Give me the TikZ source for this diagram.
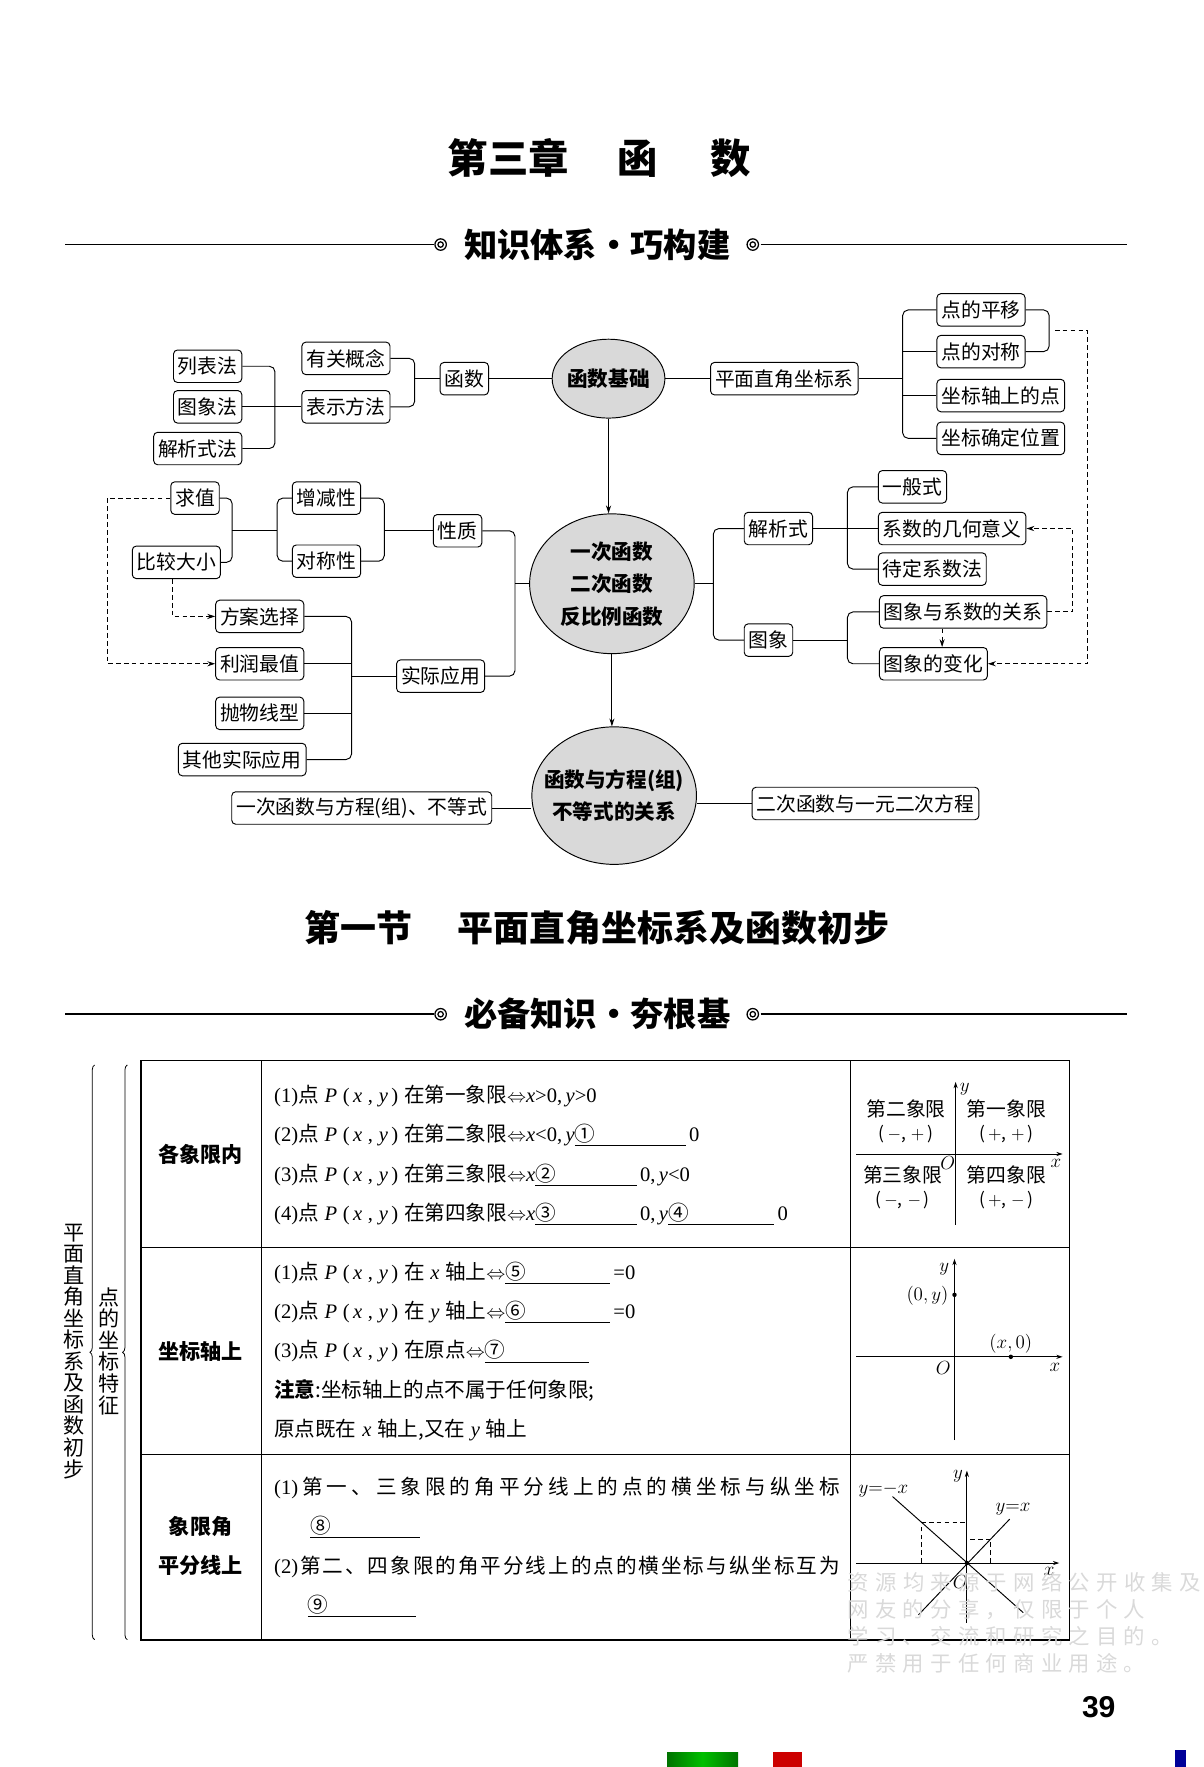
\documentclass[tikz,border=0pt]{standalone}
\usepackage{fontspec}
\setmainfont{Noto Sans CJK SC}
\newfontfamily\numfont{Liberation Sans}
\newfontfamily\latinfont{Liberation Serif}
\usetikzlibrary{shapes.geometric,arrows.meta,decorations.pathreplacing}

\newcommand{\fillblank}[2]{\underline{\makebox[#1][l]{#2}}}
\newcommand{\latn}[1]{{\latinfont #1}}
\newcommand{\Pxy}{\latn{\textit{P}\;(\,\textit{x}\;,\;\textit{y}\,)}}
\def\spreadaux#1#2{#1\ifx\relax#2\else\hfil\expandafter\spreadaux\expandafter#2\fi}
\newcommand{\spreadline}[2]{\makebox[#1][s]{\spreadaux#2\relax}}

\begin{document}
\begin{tikzpicture}[x=0.025cm, y=-0.025cm, >={Stealth[length=5pt,width=3.2pt]},
  kbox/.style={draw, rounded corners=2.5pt, line width=0.6pt, inner xsep=2.8pt, inner ysep=0pt, minimum height=0.72cm, font=\fontsize{12.5}{14}\selectfont},
  hub/.style={draw, ellipse, fill=gray!30, line width=0.6pt, inner sep=0pt, align=center, font=\fontsize{13}{20.5}\selectfont\bfseries},
  conn/.style={line width=0.6pt, rounded corners=3.5pt},
  dashln/.style={line width=0.6pt, dash pattern=on 3pt off 2pt},
  tline/.style={anchor=base west, inner sep=0pt, font=\fontsize{13}{15}\selectfont},
  tlab/.style={inner sep=0pt, align=center, font=\fontsize{13.3}{25}\selectfont\bfseries},
  vlab/.style={inner sep=0pt, align=center, font=\fontsize{13.3}{13.6}\selectfont},
  qlab/.style={inner sep=0pt, align=center, font=\fontsize{12.5}{14.5}\selectfont},
  mlab/.style={inner sep=0pt, font=\fontsize{11.5}{13}\selectfont},
  axis/.style={line width=0.6pt, -{Stealth[length=4pt,width=2.6pt]}},
  headline/.style={line width=1pt},
  wmark/.style={anchor=west, inner sep=0pt, text=black!15, font=\fontsize{13.5}{15}\selectfont},
]
\useasboundingbox (0,0) rectangle (1068,1568);

% page title and headers
\node[font=\fontsize{25.5}{28}\selectfont\bfseries] (title) at (532,140) {第三章\hspace{1.2em}函\hspace{1.3em}数};

\draw[headline] (58,217) -- (385,217);
\draw[line width=0.8pt] (391,217) circle (3.6pt) circle (1.7pt);
\node[font=\fontsize{21}{24}\selectfont\bfseries] (headA) at (530,217) {知识体系·巧构建};
\draw[line width=0.8pt] (668,217) circle (3.6pt) circle (1.7pt);
\draw[headline] (675,217) -- (1000,217);

% mind map: top row
\node[kbox, anchor=east] (liebiao) at (215,325) {列表法};
\node[kbox, anchor=east] (tuxiangfa) at (215,361) {图象法};
\node[kbox, anchor=east] (jiexishifa) at (215,398) {解析式法};
\node[kbox] (gainian) at (307,318) {有关概念};
\node[kbox] (biaoshi) at (307,361) {表示方法};
\node[kbox] (hanshu) at (412,336) {函数};
\node[hub, minimum width=2.5cm, minimum height=1.75cm] (jichu) at (540,336) {\makebox[0pt]{函数基础}};
\node[kbox] (zuobiaoxi) at (696,336) {平面直角坐标系};
\node[kbox, anchor=west] (pingyi) at (831,275) {点的平移};
\node[kbox, anchor=west] (duicheng) at (831,312) {点的对称};
\node[kbox, anchor=west] (zhoushang) at (831,351) {坐标轴上的点};
\node[kbox, anchor=west] (weizhi) at (831,389) {坐标确定位置};

% mind map: middle row
\node[hub, minimum width=3.65cm, minimum height=3.1cm] (main) at (543,518)
  {\makebox[0pt]{一次函数}\\\makebox[0pt]{二次函数}\\\makebox[0pt]{反比例函数}};
\node[kbox, anchor=east] (qiuzhi) at (195,442) {求值};
\node[kbox, anchor=east] (bijiao) at (196,499) {比较大小};
\node[kbox, anchor=west] (zengjian) at (259,442) {增减性};
\node[kbox, anchor=west] (duichengxing) at (259,498) {对称性};
\node[kbox] (xingzhi) at (406,471) {性质};
\node[kbox] (yingyong) at (391,600) {实际应用};
\node[kbox, anchor=east] (fangan) at (270,547) {方案选择};
\node[kbox, anchor=east] (lirun) at (270,589) {利润最值};
\node[kbox, anchor=east] (paowuxian) at (270,633) {抛物线型};
\node[kbox, anchor=east] (qita) at (272,674) {其他实际应用};
\node[kbox, anchor=west] (jiexishi) at (660,469) {解析式};
\node[kbox, anchor=west] (tuxiang) at (660,568) {图象};
\node[kbox, anchor=west] (yiban) at (779,432) {一般式};
\node[kbox, anchor=west] (xishu) at (779,469) {系数的几何意义};
\node[kbox, anchor=west] (daiding) at (779,505) {待定系数法};
\node[kbox, anchor=west] (guanxi) at (780,543) {图象与系数的关系};
\node[kbox, anchor=west] (bianhua) at (780,589) {图象的变化};

% mind map: bottom row
\node[hub, minimum width=3.65cm, minimum height=3.05cm] (fangcheng) at (545,706)
  {\makebox[0pt]{函数与方程(组)}\\\makebox[0pt]{不等式的关系}};
\node[kbox] (yici) at (321,717) {一次函数与方程(组)、不等式};
\node[kbox] (erci) at (768,713) {二次函数与一元二次方程};

% connectors
\coordinate (j1) at (244,361);
\draw[conn] (liebiao.east) -| (j1) |- (jiexishifa.east);
\draw[conn] (tuxiangfa.east) -- (biaoshi.west);
\coordinate (j2) at (368,336);
\draw[conn] (gainian.east) -| (j2) |- (biaoshi.east);
\draw[conn] (j2) -- (hanshu.west);
\draw[conn] (hanshu.east) -- (jichu.west);
\draw[conn] (jichu.east) -- (zuobiaoxi.west);
\coordinate (j3) at (801,336);
\draw[conn] (zuobiaoxi.east) -- (j3);
\draw[conn] (pingyi.west) -| (j3) |- (weizhi.west);
\draw[conn] (duicheng.west) -- (duicheng.west -| j3);
\draw[conn] (zhoushang.west) -- (zhoushang.west -| j3);
\coordinate (j4) at (931,293);
\draw[conn] (pingyi.east) -| (j4) |- (duicheng.east);

\draw[conn,->] (jichu.south) -- (jichu.south |- main.north);
\draw[conn,->] (main.south) -- (main.south |- fangcheng.north);

\coordinate (j8) at (457,518);
\draw[conn] (xingzhi.east) -| (j8) |- (yingyong.east);
\draw[conn] (j8) -- (main.west);
\coordinate (j7) at (341,471);
\draw[conn] (zengjian.east) -| (j7) |- (duichengxing.east);
\draw[conn] (j7) -- (xingzhi.west);
\coordinate (j6) at (246,471);
\draw[conn] (zengjian.west) -| (j6) |- (duichengxing.west);
\coordinate (j5) at (206,471);
\draw[conn] (qiuzhi.east) -| (j5) |- (bijiao.east);
\draw[conn] (j5) -- (j6);
\coordinate (j9) at (312,600);
\draw[conn] (fangan.east) -| (j9) |- (qita.east);
\draw[conn] (lirun.east) -- (lirun.east -| j9);
\draw[conn] (paowuxian.east) -- (paowuxian.east -| j9);
\draw[conn] (j9) -- (yingyong.west);

\coordinate (j10) at (633,518);
\draw[conn] (jiexishi.west) -| (j10) |- (tuxiang.west);
\draw[conn] (main.east) -- (j10);
\coordinate (j11) at (752,469);
\draw[conn] (yiban.west) -| (j11) |- (daiding.west);
\draw[conn] (jiexishi.east) -- (xishu.west);
\coordinate (j12) at (752,568);
\draw[conn] (guanxi.west) -| (j12) |- (bianhua.west);
\draw[conn] (tuxiang.east) -- (j12);

\draw[conn] (yici.east) -- (yici.east -| fangcheng.west);
\draw[conn] (erci.west) -- (erci.west -| fangcheng.east);

% dashed links
\coordinate (d1) at (936,293);
\coordinate (d2) at (965,293);
\draw[dashln,->] (d1) -- (d2) |- (bianhua.east);
\coordinate (d3) at (95,442);
\draw[dashln,->] (qiuzhi.west) -- (d3) |- (lirun.west);
\coordinate (d4) at (153,520);
\draw[dashln,->] (bijiao.south -| d4) |- (fangan.west);
\coordinate (d5) at (836,560);
\draw[dashln,->] (guanxi.south -| d5) -- (bianhua.north -| d5);
\coordinate (d6) at (952,543);
\draw[dashln,->] (guanxi.east) -- (d6) |- (xishu.east);

% section title
\node[font=\fontsize{22.7}{26}\selectfont\bfseries] (secttl) at (530,823) {第一节\hspace{1.25em}平面直角坐标系及函数初步};

\draw[headline] (58,900) -- (385,900);
\draw[line width=0.8pt] (391,900) circle (3.6pt) circle (1.7pt);
\node[font=\fontsize{21}{24}\selectfont\bfseries] (headB) at (530,900) {必备知识·夯根基};
\draw[line width=0.8pt] (668,900) circle (3.6pt) circle (1.7pt);
\draw[headline] (675,900) -- (1000,900);

% table frame
\draw[line width=1.1pt] (125,941) rectangle (949,1455);
\draw[line width=0.5pt] (232,941) -- (232,1455);
\draw[line width=0.5pt] (755,941) -- (755,1455);
\draw[line width=0.5pt] (125,1107) -- (949,1107);
\draw[line width=0.5pt] (125,1291) -- (949,1291);

% braces and side labels
\draw[line width=0.5pt, decorate, decoration={brace, amplitude=3pt}] (84,1455) -- (84,945);
\draw[line width=0.5pt, decorate, decoration={brace, amplitude=3pt}] (113,1455) -- (113,945);
\node[vlab] (sideA) at (66,1199) {平\\面\\直\\角\\坐\\标\\系\\及\\函\\数\\初\\步};
\node[vlab] (sideB) at (97,1199) {点\\的\\坐\\标\\特\\征};

% first column
\node[tlab] (colA) at (178,1024) {各象限内};
\node[tlab] (colB) at (178,1199) {坐标轴上};
\node[tlab] (colC) at (178,1372) {象限角\\平分线上};

% row 1 text
\node[tline] (ra1) at (243,978) {\latn{(1)}点\;\Pxy\;在第一象限$\Leftrightarrow$\latn{\textit{x}>0,\,\textit{y}>0}};
\node[tline] (ra2) at (243,1013) {\latn{(2)}点\;\Pxy\;在第二象限$\Leftrightarrow$\latn{\textit{x}<0,\,\textit{y}}\fillblank{70pt}{①}\,\latn{0}};
\node[tline] (ra3) at (243,1048) {\latn{(3)}点\;\Pxy\;在第三象限$\Leftrightarrow$\latn{\textit{x}}\fillblank{64pt}{②}\,\latn{0,\,\textit{y}<0}};
\node[tline] (ra4) at (243,1083) {\latn{(4)}点\;\Pxy\;在第四象限$\Leftrightarrow$\latn{\textit{x}}\fillblank{64pt}{③}\,\latn{0,\,\textit{y}}\fillblank{67pt}{④}\,\latn{0}};

% row 2 text
\node[tline] (rb1) at (243,1135) {\latn{(1)}点\;\Pxy\;在\;\latn{\textit{x}}\;轴上$\Leftrightarrow$\fillblank{66pt}{⑤}\,\latn{=0}};
\node[tline] (rb2) at (243,1170) {\latn{(2)}点\;\Pxy\;在\;\latn{\textit{y}}\;轴上$\Leftrightarrow$\fillblank{66pt}{⑥}\,\latn{=0}};
\node[tline] (rb3) at (243,1205) {\latn{(3)}点\;\Pxy\;在原点$\Leftrightarrow$\fillblank{66pt}{⑦}};
\node[tline] (rb4) at (243,1240) {\textbf{注意}:坐标轴上的点不属于任何象限;};
\node[tline] (rb5) at (243,1275) {原点既在\;\latn{\textit{x}}\;轴上,又在\;\latn{\textit{y}}\;轴上};

% row 3 text
\node[tline] (rc1) at (243,1326) {\spreadline{12.55cm}{{\latn{(1)}}第一、三象限的角平分线上的点的横坐标与纵坐标}};
\node[tline] (rc2) at (275,1361) {\fillblank{69pt}{⑧}};
\node[tline] (rc3) at (243,1396) {\spreadline{12.55cm}{{\latn{(2)}}第二、四象限的角平分线上的点的横坐标与纵坐标互为}};
\node[tline] (rc4) at (273,1431) {\fillblank{68pt}{⑨}};

% quadrant sketch
\draw[axis] (760,1024) -- (943,1024);
\draw[axis] (848,1087) -- (848,960);
\node[mlab] (qx) at (937,1032) {$x$};
\node[mlab] (qy) at (856,967) {$y$};
\node[mlab] (qo) at (841,1032) {$O$};
\node[qlab] (quadB) at (804,995) {第二象限\\{\fontsize{11}{13}\selectfont(\,$-$,\;$+$\,)}};
\node[qlab] (quadA) at (893,995) {第一象限\\{\fontsize{11}{13}\selectfont(\,$+$,\;$+$\,)}};
\node[qlab] (quadC) at (801,1054) {第三象限\\{\fontsize{11}{13}\selectfont(\,$-$,\;$-$\,)}};
\node[qlab] (quadD) at (893,1054) {第四象限\\{\fontsize{11}{13}\selectfont(\,$+$,\;$-$\,)}};

% axes sketch
\draw[axis] (760,1204) -- (943,1204);
\draw[axis] (847,1278) -- (847,1117);
\fill (847,1149) circle (1.4pt);
\fill (897,1204) circle (1.4pt);
\node[mlab] (ax) at (936,1213) {$x$};
\node[mlab] (ay) at (838,1126) {$y$};
\node[mlab] (ao) at (837,1214) {$O$};
\node[mlab] (p0y) at (823,1150) {$(0,y)$};
\node[mlab] (px0) at (897,1192) {$(x,0)$};

% bisector sketch
\draw[axis] (760,1387) -- (940,1387);
\draw[axis] (858,1440) -- (858,1305);
\draw[line width=0.6pt] (792,1328) -- (908,1431);
\draw[line width=0.6pt] (815,1433) -- (896,1348);
\draw[line width=0.5pt, dash pattern=on 3pt off 2pt] (818,1387) -- (818,1351) -- (858,1351);
\draw[line width=0.5pt, dash pattern=on 3pt off 2pt] (879,1387) -- (879,1366) -- (858,1366);
\fill (858,1387) circle (1.4pt);
\node[mlab] (bx) at (931,1394) {$x$};
\node[mlab] (by) at (850,1310) {$y$};
\node[mlab] (bo) at (852,1404) {$O$};
\node[mlab] (bneg) at (784,1322) {$y{=}{-}x$};
\node[mlab] (bpos) at (899,1339) {$y{=}x$};

% watermark and page furniture
\node[wmark] (wmA) at (752,1404) {\spreadline{7.83cm}{资源均来源于网络公开收集及}};
\node[wmark] (wmB) at (752,1428) {\spreadline{6.6cm}{网友的分享，仅限于个人}};
\node[wmark] (wmC) at (752,1452) {\spreadline{7.21cm}{学习、交流和研究之目的。}};
\node[wmark] (wmD) at (752,1476) {\spreadline{6.6cm}{严禁用于任何商业用途。}};
\node[font=\numfont\bfseries\fontsize{19}{21}\selectfont] (pnum) at (975,1515) {39};

\fill[left color=green!45!black, right color=green!45!black, middle color=green!75!black] (592,1555) rectangle (655,1568);
\fill[red!80!black] (686,1555) rectangle (712,1568);
\fill[blue!60!black] (1043,1553) rectangle (1052,1568);
\end{tikzpicture}
\end{document}
